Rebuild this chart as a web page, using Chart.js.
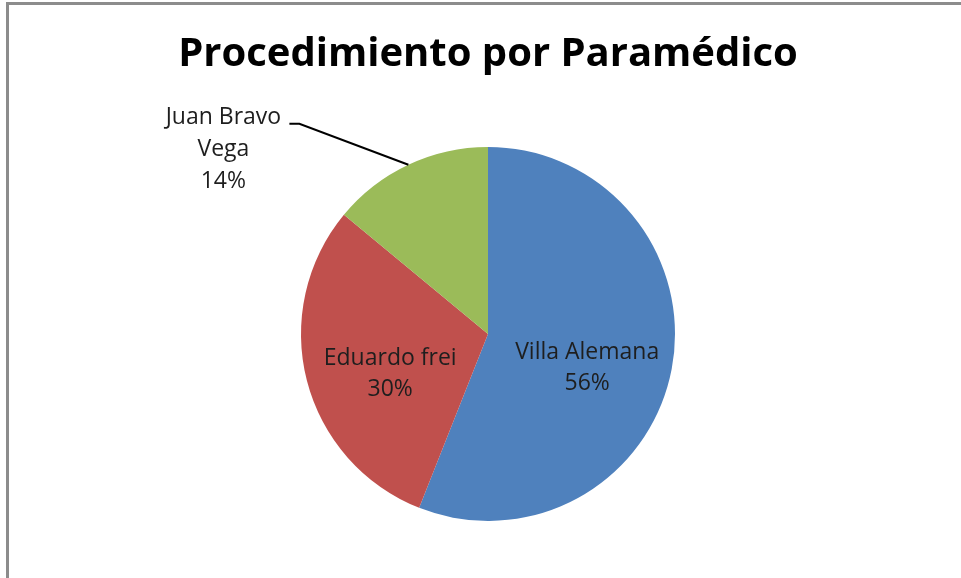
<!DOCTYPE html>
<html lang="es">
<head>
    <meta charset="UTF-8">
    <title>Procedimiento por Paramédico</title>
    <script src="https://cdn.jsdelivr.net/npm/chart.js"></script>
    <style>
        html, body { margin: 0; padding: 0; background: #fff; }
        #wrap { width: 961px; height: 578px; }
    </style>
</head>
<body>
    <div id="wrap"><canvas id="myChart" width="961" height="578"></canvas></div>
    <script>
        const categories = ['Villa Alemana', 'Eduardo frei', 'Juan Bravo Vega'];
        const values = [56, 30, 14];
        const colors = ['#4F81BD', '#C0504D', '#9BBB59'];

        const FONT = '"Open Sans", "Noto Sans", sans-serif';

        // grey frame around the chart (left + top only, like the crop)
        const framePlugin = {
            id: 'frame',
            beforeDraw(chart) {
                const c = chart.ctx;
                c.save();
                c.fillStyle = '#fff';
                c.fillRect(0, 0, chart.width, chart.height);
                c.strokeStyle = '#8c8c8c';
                c.lineWidth = 3;
                c.beginPath();
                c.moveTo(7.5, chart.height);
                c.lineTo(7.5, 3.5);
                c.lineTo(chart.width, 3.5);
                c.stroke();
                c.restore();
            }
        };

        // data labels: name + percent, outside label with leader for small slice
        const labelPlugin = {
            id: 'sliceLabels',
            afterDatasetsDraw(chart) {
                const c = chart.ctx;
                const meta = chart.getDatasetMeta(0);
                const total = values.reduce((a, b) => a + b, 0);
                c.save();
                c.fillStyle = '#1e1e1e';
                c.font = '23px ' + FONT;
                c.textAlign = 'center';
                c.textBaseline = 'middle';
                meta.data.forEach((arc, i) => {
                    const p = arc.getProps(['x', 'y', 'startAngle', 'endAngle', 'outerRadius'], true);
                    const mid = (p.startAngle + p.endAngle) / 2;
                    const pct = Math.round(values[i] / total * 100) + '%';
                    if (values[i] / total > 0.2) {
                        const r = p.outerRadius * 0.54;
                        const x = p.x + Math.cos(mid) * r;
                        const y = p.y + Math.sin(mid) * r + 15;
                        c.fillText(categories[i], x, y - 15.5);
                        c.fillText(pct, x, y + 15.5);
                    } else {
                        const ex = p.x + Math.cos(mid) * p.outerRadius;
                        const ey = p.y + Math.sin(mid) * p.outerRadius;
                        const kx = ex - 109, ky = ey - 41;
                        c.strokeStyle = '#000';
                        c.lineWidth = 2;
                        c.beginPath();
                        c.moveTo(ex, ey);
                        c.lineTo(kx, ky);
                        c.lineTo(kx - 10, ky);
                        c.stroke();
                        const words = categories[i].split(' ');
                        const lines = [words.slice(0, 2).join(' '), words.slice(2).join(' '), pct];
                        const cx = kx - 76;
                        lines.forEach((t, j) => c.fillText(t, cx, ky - 6 + j * 32));
                    }
                });
                c.restore();
            }
        };

        const ctx = document.getElementById('myChart').getContext('2d');
        const pieChart = new Chart(ctx, {
            type: 'pie',
            data: {
                labels: categories,
                datasets: [{
                    data: values,
                    backgroundColor: colors,
                    borderWidth: 0
                }]
            },
            options: {
                responsive: false,
                animation: false,
                layout: {
                    padding: { top: 0, bottom: 57, left: 15, right: 0 }
                },
                plugins: {
                    legend: { display: false },
                    tooltip: { enabled: false },
                    title: {
                        display: true,
                        text: 'Procedimiento por Paramédico',
                        color: '#000',
                        font: { family: FONT, size: 40, weight: 'bold', lineHeight: 1.2 },
                        padding: { top: 31, bottom: 68 }
                    }
                }
            },
            plugins: [framePlugin, labelPlugin]
        });
    </script>
</body>
</html>
